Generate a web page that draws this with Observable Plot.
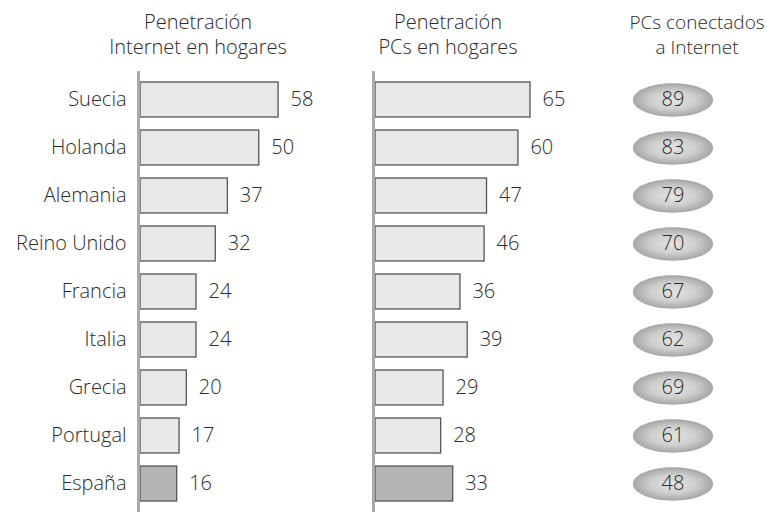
<!DOCTYPE html>
<html>
<head>
<meta charset="utf-8">
<script src="https://cdn.jsdelivr.net/npm/d3@7"></script>
<script src="https://cdn.jsdelivr.net/npm/@observablehq/plot@0.6"></script>
<style>
  html, body { margin: 0; padding: 0; background: #fff; }
  #chart svg { display: block; font-family: "Open Sans", sans-serif; font-weight: 300; }
</style>
</head>
<body>
<div id="chart"></div>
<script>
// ---- Data ----
const countries = ["Suecia", "Holanda", "Alemania", "Reino Unido", "Francia", "Italia", "Grecia", "Portugal", "España"];
const internetHogares = [58, 50, 37, 32, 24, 24, 20, 17, 16];
const pcsHogares = [65, 60, 47, 46, 36, 39, 29, 28, 33];
const pcsConectados = [89, 83, 79, 70, 67, 62, 69, 61, 48];
const panels = ["internet", "pcs", "conectados"];
const headers = ["Penetración\nInternet en hogares", "Penetración\nPCs en hogares", "PCs conectados\na Internet"];
const highlight = "España";

// ---- Table ----
const series = [internetHogares, pcsHogares, pcsConectados];
const rows = [];
panels.forEach((p, i) => countries.forEach((c, j) => rows.push({panel: p, country: c, value: series[i][j]})));
const barRows = rows.filter(d => d.panel !== "conectados");
const ovalRows = rows.filter(d => d.panel === "conectados");
const headerRows = panels.map((p, i) => ({panel: p, text: headers[i]}));

// custom ellipse symbol
const ellipse = {
  draw(ctx, size) {
    const r = Math.sqrt(size / Math.PI);
    const rx = r * 2.4, ry = r, k = 0.5523;
    ctx.moveTo(rx, 0);
    ctx.bezierCurveTo(rx, ry * k, rx * k, ry, 0, ry);
    ctx.bezierCurveTo(-rx * k, ry, -rx, ry * k, -rx, 0);
    ctx.bezierCurveTo(-rx, -ry * k, -rx * k, -ry, 0, -ry);
    ctx.bezierCurveTo(rx * k, -ry, rx, -ry * k, rx, 0);
    ctx.closePath();
  }
};

const textColor = "#2a2a2a";
const fs = 20;

const chart = Plot.plot({
  width: 767,
  height: 514,
  marginLeft: 137,
  marginRight: 0,
  marginTop: 71,
  marginBottom: 2,
  style: {fontFamily: "'Open Sans', sans-serif", fontWeight: 300, color: textColor, background: "#fff"},
  fx: {domain: panels, paddingInner: 0.33, paddingOuter: 0, axis: null, label: null},
  x: {domain: [0, 65], axis: null},
  y: {domain: countries, paddingInner: 0.27, paddingOuter: 0.17, axis: null},
  color: {type: "identity"},
  marks: [
    Plot.barX(barRows, {
      x: "value", y: "country", fx: "panel",
      fill: d => d.country === highlight ? "#b4b4b4" : "#e8e8e8",
      stroke: "#555", strokeWidth: 1.3, insetLeft: 2
    }),
    Plot.ruleX(panels.slice(0, 2), {x: 0, fx: d => d, stroke: "#aaa", strokeWidth: 3}),
    Plot.text(barRows, {
      x: "value", y: "country", fx: "panel", text: "value",
      textAnchor: "start", dx: 12, fontSize: fs, fill: textColor
    }),
    Plot.axisY({tickSize: 0, tickPadding: 12, fontSize: fs, label: null, fill: textColor}),
    Plot.dot(ovalRows, {
      y: "country", fx: "panel", frameAnchor: "middle", dx: -14,
      symbol: ellipse, r: 16.7, fill: "url(#ovalGrad)", stroke: "none"
    }),
    Plot.text(ovalRows, {
      y: "country", fx: "panel", frameAnchor: "middle", dx: -14,
      text: "value", fontSize: fs, fill: textColor
    }),
    Plot.text(headerRows.slice(0, 1), {fx: "panel", text: "text", frameAnchor: "top", lineAnchor: "top", dy: -60, dx: -19, fontSize: fs, lineHeight: 1.25, fill: textColor}),
    Plot.text(headerRows.slice(1, 2), {fx: "panel", text: "text", frameAnchor: "top", lineAnchor: "top", dy: -60, dx: -4, fontSize: fs, lineHeight: 1.25, fill: textColor}),
    Plot.text(headerRows.slice(2, 3), {fx: "panel", text: "text", frameAnchor: "top", lineAnchor: "top", dy: -60, dx: 10, fontSize: 19, lineHeight: 1.32, fill: textColor})
  ]
});

d3.select(chart).insert("defs", ":first-child").html(
  `<radialGradient id="ovalGrad" cx="50%" cy="50%" r="50%">
     <stop offset="0%" stop-color="#e4e4e4"/>
     <stop offset="55%" stop-color="#cfcfcf"/>
     <stop offset="100%" stop-color="#a6a6a6"/>
   </radialGradient>`
);

document.getElementById("chart").appendChild(chart);
</script>
</body>
</html>
